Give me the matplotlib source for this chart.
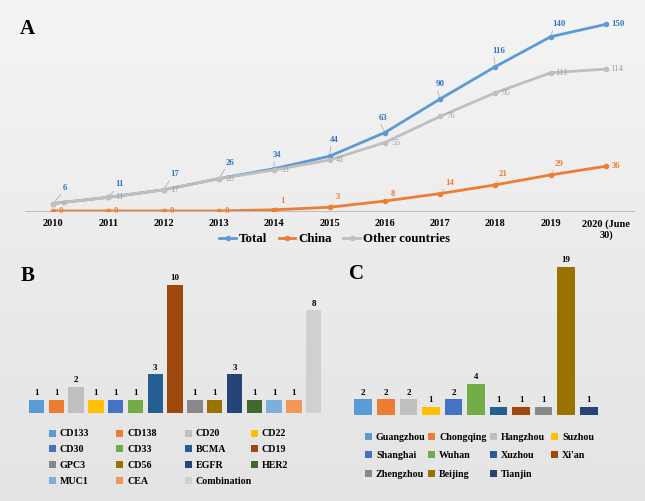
import matplotlib
matplotlib.use("Agg")
import matplotlib.pyplot as plt
import numpy as np
from matplotlib.lines import Line2D

# ---- data ----
years = ['2010', '2011', '2012', '2013', '2014', '2015', '2016', '2017', '2018', '2019', '2020 (June\n30)']
total = [6, 11, 17, 26, 34, 44, 63, 90, 116, 140, 150]
china = [0, 0, 0, 0, 1, 3, 8, 14, 21, 29, 36]
other = [6, 11, 17, 26, 33, 41, 55, 76, 95, 111, 114]

targets = ['CD133', 'CD138', 'CD20', 'CD22', 'CD30', 'CD33', 'BCMA', 'CD19',
           'GPC3', 'CD56', 'EGFR', 'HER2', 'MUC1', 'CEA', 'Combination']
target_counts = [1, 1, 2, 1, 1, 1, 3, 10, 1, 1, 3, 1, 1, 1, 8]

cities = ['Guangzhou', 'Chongqing', 'Hangzhou', 'Suzhou', 'Shanghai', 'Wuhan',
          'Xuzhou', "Xi'an", 'Zhengzhou', 'Beijing', 'Tianjin']
city_counts = [2, 2, 2, 1, 2, 4, 1, 1, 1, 19, 1]

# ---- styling ----
plt.rcParams['font.family'] = ['Liberation Serif', 'DejaVu Serif']
c_total, c_china, c_other = '#5B9BD5', '#ED7D31', '#BFBFBF'
target_colors = ['#5B9BD5', '#ED7D31', '#BFBFBF', '#FFC000', '#4472C4', '#70AD47',
                 '#255E91', '#9E480E', '#888888', '#997300', '#264478', '#43682B',
                 '#7CAFDD', '#F1975A', '#D0D0D0']
city_colors = ['#5B9BD5', '#ED7D31', '#BFBFBF', '#FFC000', '#4472C4', '#70AD47',
               '#255E91', '#9E480E', '#888888', '#997300', '#264478']

W, H = 645, 501
fig = plt.figure(figsize=(W / 100, H / 100), dpi=100)


def px_axes(left, top, width, height):
    return fig.add_axes([left / W, 1 - (top + height) / H, width / W, height / H])


# background gradient
bg = px_axes(0, 0, W, H)
grad = np.linspace(0, 1, 256).reshape(-1, 1)
bg.imshow(grad, aspect='auto', cmap=matplotlib.colors.LinearSegmentedColormap.from_list(
    'g', ['#f4f4f4', '#e4e4e4']), extent=[0, 1, 0, 1])
bg.axis('off')
bg.set_zorder(-10)

# ---- panel A ----
axA = px_axes(25.4, 11.8, 608.3, 199.2)
x = np.arange(len(years))
axA.plot(x, total, color=c_total, lw=2, marker='o', ms=3, zorder=3)
axA.plot(x, china, color=c_china, lw=2, marker='o', ms=3, zorder=3)
axA.plot(x, other, color=c_other, lw=2, marker='o', ms=3, zorder=4)
axA.set_xlim(-0.5, len(years) - 0.5)
axA.set_ylim(0, 160)
axA.set_xticks(x)
axA.set_xticklabels(years, fontsize=7.5, fontweight='bold')
axA.tick_params(axis='x', length=0, pad=6)
axA.set_yticks([])
for s in ['top', 'right', 'left']:
    axA.spines[s].set_visible(False)
axA.spines['bottom'].set_color('#BFBFBF')
axA.patch.set_alpha(0)

# label offsets in pixels (dx, dy up)
tot_off = [(12, 16), (11, 13), (11, 16), (11, 16), (3, 14), (5, 16), (-2, 15), (0, 15), (3, 16), (8, 13), (12, 0)]
chi_off = [(8, 0)] * 4 + [(8, 9), (8, 10), (8, 7), (10, 11), (8, 11), (8, 11), (10, 0)]
leader = dict(arrowstyle='-', color='#A6A6A6', lw=0.5, shrinkA=0, shrinkB=2, relpos=(0.1, 0.0))
for i in range(len(years)):
    ap = leader if tot_off[i][1] > 0 else None
    axA.annotate(str(total[i]), (x[i], total[i]), xytext=tot_off[i], textcoords='offset pixels',
                 ha='center', va='center', fontsize=6.3, fontweight='bold', color='#2E75C6',
                 arrowprops=ap, zorder=6)
    axA.annotate(str(other[i]), (x[i], other[i]), xytext=(11, 0), textcoords='offset pixels',
                 ha='center', va='center', fontsize=6.3, color='#A0A0A0', zorder=6)
    ap = leader if chi_off[i][1] > 0 else None
    axA.annotate(str(china[i]), (x[i], china[i]), xytext=chi_off[i], textcoords='offset pixels',
                 ha='center', va='center', fontsize=6.3, fontweight='bold', color=c_china,
                 arrowprops=ap, zorder=6)

handles = [Line2D([], [], color=c, lw=2, marker='o', ms=3) for c in (c_total, c_china, c_other)]
fig.legend(handles, ['Total', 'China', 'Other countries'], loc='center',
           bbox_to_anchor=(334.5 / W, 1 - 239 / H), ncol=3, frameon=False,
           prop=dict(size=9.3, weight='bold'), handlelength=1.3, handletextpad=0.2,
           columnspacing=0.9, borderpad=0)
fig.text(27 / W, 1 - 29 / H, 'A', fontsize=15, fontweight='bold', ha='center', va='center')


def bar_panel(ax, labels, values, colors, ymax):
    bars = ax.bar(np.arange(len(values)), values, width=0.78, color=colors)
    ax.bar_label(bars, padding=2, fontsize=6.5, fontweight='bold')
    ax.set_xlim(-0.5, len(values) - 0.5)
    ax.set_ylim(0, ymax)
    ax.axis('off')
    return bars


def col_legends(bars, labels, col_x, top, spacing):
    for c, xp in enumerate(col_x):
        h = list(bars.patches)[c::4]
        lab = labels[c::4]
        fig.legend(h, lab, loc='upper left', bbox_to_anchor=(xp / W, 1 - top / H),
                   frameon=False, prop=dict(size=7.2, weight='bold'), handlelength=0.7,
                   handleheight=0.7, handletextpad=0.4, labelspacing=spacing,
                   borderpad=0, borderaxespad=0)


# ---- panel B ----
axB = px_axes(26.6, 271.9, 297, 140.8)
barsB = bar_panel(axB, targets, target_counts, target_colors, 11)
col_legends(barsB, targets, [49, 116, 185, 251], 429.5, 0.68)
fig.text(27.5 / W, 1 - 276 / H, 'B', fontsize=15, fontweight='bold', ha='center', va='center')

# ---- panel C ----
axC = px_axes(352, 259.2, 248, 155.8)
barsC = bar_panel(axC, cities, city_counts, city_colors, 20)
col_legends(barsC, cities, [365, 428, 490, 551], 432.5, 0.98)
fig.text(356 / W, 1 - 274 / H, 'C', fontsize=15, fontweight='bold', ha='center', va='center')

fig.savefig('out.png', dpi=100)
